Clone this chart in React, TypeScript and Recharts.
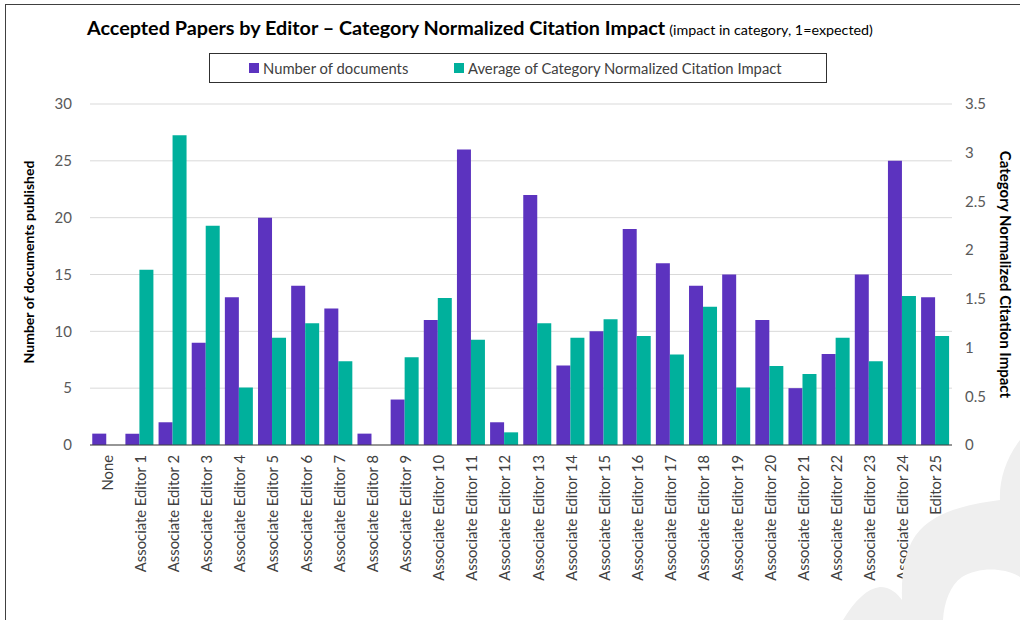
import React from "react";
import { BarChart, Bar, XAxis, YAxis, CartesianGrid, Legend, Label } from "recharts";

const categories = [
  "None",
  "Associate Editor 1",
  "Associate Editor 2",
  "Associate Editor 3",
  "Associate Editor 4",
  "Associate Editor 5",
  "Associate Editor 6",
  "Associate Editor 7",
  "Associate Editor 8",
  "Associate Editor 9",
  "Associate Editor 10",
  "Associate Editor 11",
  "Associate Editor 12",
  "Associate Editor 13",
  "Associate Editor 14",
  "Associate Editor 15",
  "Associate Editor 16",
  "Associate Editor 17",
  "Associate Editor 18",
  "Associate Editor 19",
  "Associate Editor 20",
  "Associate Editor 21",
  "Associate Editor 22",
  "Associate Editor 23",
  "Associate Editor 24",
  "Associate Editor 25",
];

const documents = [1, 1, 2, 9, 13, 20, 14, 12, 1, 4, 11, 26, 2, 22, 7, 10, 19, 16, 14, 15, 11, 5, 8, 15, 25, 13];

const cnci: (number | null)[] = [
  null, 1.8, 3.18, 2.25, 0.59, 1.1, 1.25, 0.86, null, 0.9, 1.51, 1.08, 0.13, 1.25, 1.1, 1.29, 1.12, 0.93, 1.42,
  0.59, 0.81, 0.73, 1.1, 0.86, 1.53, 1.12,
];

const leftTicks = [0, 5, 10, 15, 20, 25, 30];
const rightTicks = [0, 0.5, 1, 1.5, 2, 2.5, 3, 3.5];

const seriesNames = ["Number of documents", "Average of Category Normalized Citation Impact"];
const titleMain = "Accepted Papers by Editor \u2013 Category Normalized Citation Impact";
const titleSub = "(impact in category, 1=expected)";
const leftAxisTitle = "Number of documents published";
const rightAxisTitle = "Category Normalized Citation Impact";

const data = categories.map((name, i) => ({ name, docs: documents[i], cnci: cnci[i] }));

const PURPLE = "#5C33BF";
const TEAL = "#00B09C";
const FONT = "Lato, 'Open Sans', sans-serif";

const XTick = (props: any) => {
  const { x, y, payload } = props;
  return (
    <text
      x={x}
      y={y}
      dy={6}
      transform={`rotate(-90, ${x}, ${y})`}
      textAnchor="end"
      fontFamily={FONT}
      fontSize={14.8}
      fill="#404040"
    >
      {payload.value}
    </text>
  );
};

const LegendContent = (props: any) => {
  const payload = [...(props.payload || [])].sort(
    (a: any, b: any) => seriesNames.indexOf(a.value) - seriesNames.indexOf(b.value)
  );
  return (
    <div
      style={{
        width: 618,
        height: 30,
        boxSizing: "border-box",
        border: "1px solid #303030",
        display: "flex",
        alignItems: "center",
        paddingLeft: 39,
        fontFamily: FONT,
        fontSize: 14.8,
        color: "#404040",
        background: "#fff",
        whiteSpace: "nowrap",
      }}
    >
      {payload.map((p: any, i: number) => (
        <div
          key={i}
          style={{ display: "flex", alignItems: "center", width: i === 0 ? 205 : "auto", flexShrink: 0 }}
        >
          <span
            style={{ display: "inline-block", width: 10, height: 10, background: p.color, marginRight: 4 }}
          />
          <span>{p.value}</span>
        </div>
      ))}
    </div>
  );
};

export default function App() {
  return (
    <div
      style={{
        position: "absolute",
        left: 0,
        top: 0,
        width: 1020,
        height: 620,
        overflow: "hidden",
        background: "#fff",
      }}
    >
      <div
        style={{
          position: "absolute",
          left: 5,
          top: 4,
          width: 1200,
          height: 800,
          border: "1px solid #404040",
        }}
      />
      <div style={{ position: "absolute", left: 0, top: 0 }}>
        <BarChart
          width={1020}
          height={620}
          data={data}
          margin={{ top: 104, right: 0, bottom: 5, left: 20 }}
          barCategoryGap="6.8%"
          barGap={0}
        >
          <CartesianGrid vertical={false} stroke="#d9d9d9" yAxisId="left" />
          <XAxis
            dataKey="name"
            interval={0}
            tickLine={false}
            tickSize={0}
            tickMargin={10}
            height={170}
            axisLine={{ stroke: "#404040" }}
            tick={<XTick />}
          />
          <YAxis
            yAxisId="left"
            width={70}
            domain={[0, 30]}
            ticks={leftTicks}
            axisLine={false}
            tickLine={false}
            tickSize={0}
            tickMargin={18}
            tick={{ fontFamily: FONT, fontSize: 15, fill: "#595959" }}
          >
            <Label
              content={(p: any) => {
                const vb = p.viewBox;
                const cx = vb.x + 14;
                const cy = 262;
                return (
                  <text
                    x={cx}
                    y={cy}
                    transform={`rotate(-90, ${cx}, ${cy})`}
                    textAnchor="middle"
                    fontFamily={FONT}
                    fontWeight={700}
                    fontSize={14}
                    fill="#000"
                  >
                    {leftAxisTitle}
                  </text>
                );
              }}
            />
          </YAxis>
          <YAxis
            yAxisId="right"
            orientation="right"
            width={68}
            domain={[0, 3.5]}
            ticks={rightTicks}
            axisLine={false}
            tickLine={false}
            tickSize={0}
            tickMargin={13}
            tick={{ fontFamily: FONT, fontSize: 15, fill: "#595959", textAnchor: "start" }}
          >
            <Label
              content={(p: any) => {
                const vb = p.viewBox;
                const cx = vb.x + 48;
                const cy = vb.y + vb.height / 2;
                return (
                  <text
                    x={cx}
                    y={cy}
                    transform={`rotate(90, ${cx}, ${cy})`}
                    textAnchor="middle"
                    fontFamily={FONT}
                    fontWeight={700}
                    fontSize={15}
                    fill="#000"
                  >
                    {rightAxisTitle}
                  </text>
                );
              }}
            />
          </YAxis>
          <Legend
            layout="horizontal"
            verticalAlign="middle"
            align="center"
            wrapperStyle={{ position: "absolute", top: 53, left: 209, width: 618, height: 30 }}
            content={<LegendContent />}
          />
          <Bar yAxisId="left" dataKey="docs" name={seriesNames[0]} fill={PURPLE} isAnimationActive={false} />
          <Bar yAxisId="right" dataKey="cnci" name={seriesNames[1]} fill={TEAL} isAnimationActive={false} />
        </BarChart>
      </div>
      <svg
        width={1020}
        height={620}
        style={{ position: "absolute", left: 0, top: 0, pointerEvents: "none" }}
      >
        <text x={87} y={35} fontFamily={FONT} fill="#000">
          <tspan fontWeight={700} fontSize={19.8}>
            {titleMain}
          </tspan>
          <tspan fontSize={14.3} dx={4}>
            {titleSub}
          </tspan>
        </text>
        <path
          fill="#efefef"
          fillRule="evenodd"
          d="M 843 620 C 855 600, 868 588, 880 587 C 890 587, 897 593, 902 600 C 901 570, 906 545, 920 530 C 935 514, 960 505, 1000 500 C 999 480, 1006 458, 1020 440 L 1020 620 Z M 943 620 C 944 603, 950 585, 962 577 C 978 567, 1004 567, 1020 577 L 1020 620 Z"
        />
      </svg>
    </div>
  );
}
